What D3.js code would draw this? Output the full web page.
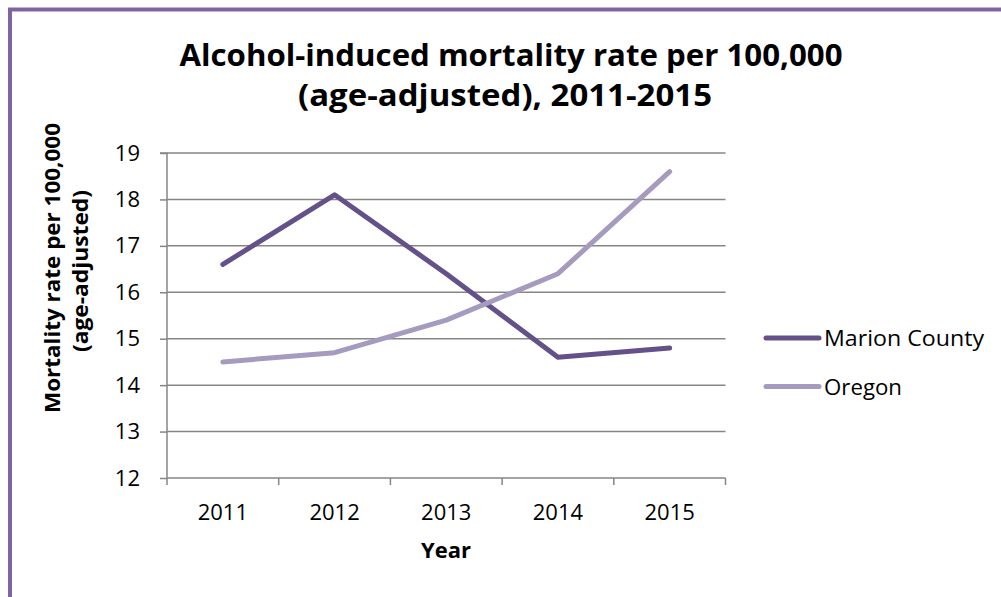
<!DOCTYPE html>
<html><head><meta charset="utf-8">
<script src="https://cdn.jsdelivr.net/npm/d3@7"></script>
<style>
html,body{margin:0;padding:0;background:#fff;}
svg{display:block;font-family:"Open Sans","Liberation Sans",Arial,sans-serif;}
</style></head>
<body><svg id="c" width="1001" height="597"></svg>
<script>
const years = ["2011","2012","2013","2014","2015"];
const marion = [16.6, 18.1, 16.4, 14.6, 14.8];
const oregon = [14.5, 14.7, 15.4, 16.4, 18.6];
const yTicks = [12,13,14,15,16,17,18,19];
const seriesNames = ["Marion County","Oregon"];
const seriesColors = ["#65518A","#A69ABF"];
const titleLines = ["Alcohol-induced mortality rate per 100,000","(age-adjusted), 2011-2015"];
const yTitleLines = ["Mortality rate per 100,000","(age-adjusted)"];
const xTitle = "Year";

const svg = d3.select("#c");
const W = 1001, H = 597;
const FF = "Open Sans, Liberation Sans, sans-serif";
svg.append("rect").attr("width",W).attr("height",H).attr("fill","#fff");
// frame (only top and left visible)
svg.append("path").attr("d","M10,600 L10,9.5 L1010,9.5").attr("fill","none")
  .attr("stroke","#8064A2").attr("stroke-width",4);

const L=167, R=725.5, T=153, B=478;
const x = d3.scaleBand().domain(years).range([L,R]);
const y = d3.scaleLinear().domain([12,19]).range([B,T]);
const grey = "#868686";

// gridlines
svg.append("g").selectAll("line").data(yTicks.filter(d=>d>12)).join("line")
  .attr("x1",L).attr("x2",R).attr("y1",d=>y(d)).attr("y2",d=>y(d))
  .attr("stroke",grey).attr("stroke-width",1.5);

// y axis
const ya = svg.append("g").attr("transform",`translate(${L},0)`)
  .call(d3.axisLeft(y).tickValues(yTicks).tickSize(7).tickPadding(20).tickFormat(d3.format("d")));
ya.attr("font-family",FF);
ya.select(".domain").attr("stroke",grey).attr("stroke-width",1.5).attr("d",`M-7,${T}H0V${B}`);
ya.selectAll(".tick line").attr("stroke",grey).attr("stroke-width",1.5);
ya.selectAll(".tick text").attr("font-size",22).attr("fill","#000");

// x axis
const xa = svg.append("g").attr("transform",`translate(0,${B})`)
  .call(d3.axisBottom(x).tickSize(0).tickPadding(26));
xa.attr("font-family",FF);
xa.select(".domain").attr("stroke",grey).attr("stroke-width",1.5).attr("d",`M${L},0H${R}`);
xa.selectAll(".tick text").attr("font-size",22).attr("fill","#000");
const bounds = years.map(d=>x(d)).concat([R]);
svg.append("g").selectAll("line").data(bounds).join("line")
  .attr("x1",d=>d).attr("x2",d=>d).attr("y1",B).attr("y2",B+7)
  .attr("stroke",grey).attr("stroke-width",1.5);

// lines
const line = d3.line().x((d,i)=>x(years[i])+x.bandwidth()/2).y(d=>y(d));
[marion, oregon].forEach((s,i)=>{
  svg.append("path").datum(s).attr("d",line).attr("fill","none")
    .attr("stroke",seriesColors[i]).attr("stroke-width",5)
    .attr("stroke-linecap","round").attr("stroke-linejoin","round");
});

// title
svg.append("text").attr("x",511).attr("y",66).attr("text-anchor","middle")
  .attr("font-size",31).attr("font-weight","bold").attr("textLength",663).attr("lengthAdjust","spacingAndGlyphs").text(titleLines[0]);
svg.append("text").attr("x",505).attr("y",106).attr("text-anchor","middle")
  .attr("font-size",31).attr("font-weight","bold").attr("textLength",414).attr("lengthAdjust","spacingAndGlyphs").text(titleLines[1]);

// y title
svg.append("text").attr("transform","translate(60,268) rotate(-90)").attr("text-anchor","middle")
  .attr("font-size",21).attr("font-weight","bold").attr("textLength",290).attr("lengthAdjust","spacingAndGlyphs").text(yTitleLines[0]);
svg.append("text").attr("transform","translate(88,271) rotate(-90)").attr("text-anchor","middle")
  .attr("font-size",21).attr("font-weight","bold").attr("textLength",162).attr("lengthAdjust","spacingAndGlyphs").text(yTitleLines[1]);

// x title
svg.append("text").attr("x",446).attr("y",558).attr("text-anchor","middle")
  .attr("font-size",22).attr("font-weight","bold").text(xTitle);

// legend
const leg = svg.append("g");
const legW = [160, 78];
seriesNames.forEach((n,i)=>{
  const ly = 338 + i*48.5;
  leg.append("line").attr("x1",766).attr("x2",819).attr("y1",ly).attr("y2",ly)
    .attr("stroke",seriesColors[i]).attr("stroke-width",5).attr("stroke-linecap","round");
  leg.append("text").attr("x",824).attr("y",ly+8).attr("font-size",22).attr("fill","#000")
    .attr("textLength",legW[i]).attr("lengthAdjust","spacingAndGlyphs").text(n);
});
</script></body></html>
